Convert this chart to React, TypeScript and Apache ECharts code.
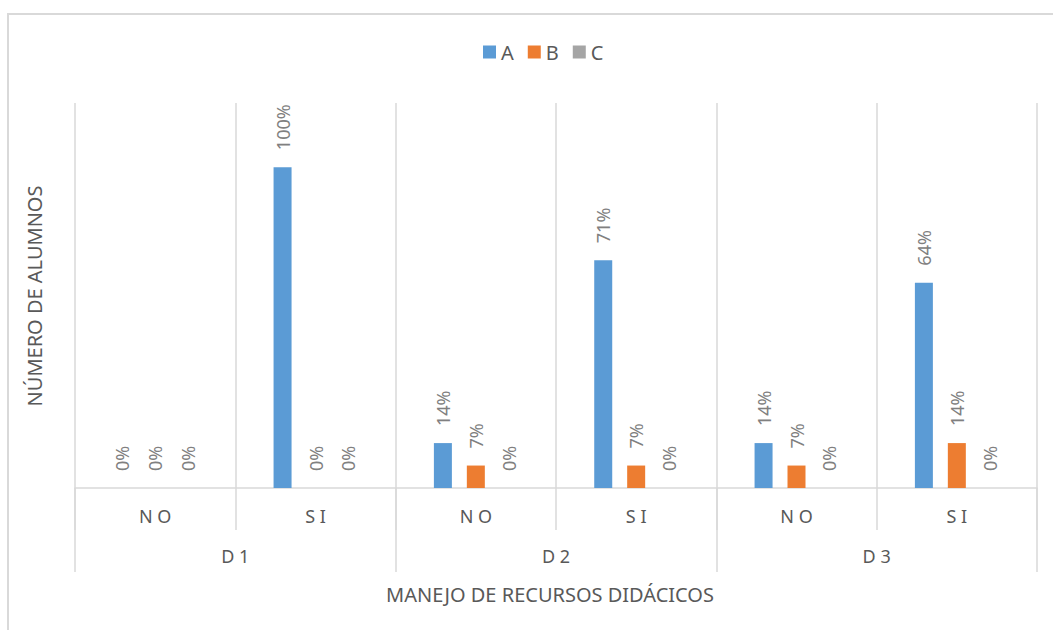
import React, { useEffect, useRef } from "react";
import * as echarts from "echarts";

const subCategories = ["NO", "SI", "NO", "SI", "NO", "SI"];
const groups = ["D1", "D2", "D3"];
const seriesNames = ["A", "B", "C"];
const valuesA = [0, 1.0, 0.14, 0.71, 0.14, 0.64];
const valuesB = [0, 0, 0.07, 0.07, 0.07, 0.14];
const valuesC = [0, 0, 0, 0, 0, 0];
const colors = ["#5B9BD5", "#ED7D31", "#A5A5A5"];
const yTitle = "NÚMERO DE ALUMNOS";
const xTitle = "MANEJO DE RECURSOS DIDÁCICOS";

const FONT = "'Noto Sans', sans-serif";
const GRID_COLOR = "#D9D9D9";
const TEXT = "#595959";

export default function App() {
  const ref = useRef<HTMLDivElement>(null);
  useEffect(() => {
    if (!ref.current) return;
    const chart = echarts.init(ref.current, undefined, { renderer: "svg" });
    const spaced = (v: string) => v.split("").join(" ");
    const allValues = [valuesA, valuesB, valuesC];
    chart.setOption({
      animation: false,
      textStyle: { fontFamily: FONT },
      legend: {
        data: seriesNames,
        left: 478,
        top: 37,
        icon: "rect",
        itemWidth: 13,
        itemHeight: 13,
        itemGap: 14,
        textStyle: { color: TEXT, fontSize: 20, fontFamily: FONT },
      },
      grid: { left: 75, right: 16, top: 103, bottom: 142, containLabel: false },
      xAxis: [
        {
          type: "category",
          data: subCategories,
          position: "bottom",
          axisLine: { show: true, lineStyle: { color: GRID_COLOR, width: 1.5 } },
          axisTick: { show: true, interval: 0, length: 42, lineStyle: { color: GRID_COLOR, width: 1.5 } },
          axisLabel: {
            interval: 0,
            margin: 19,
            color: TEXT,
            fontSize: 18,
            fontFamily: FONT,
            formatter: spaced,
          },
          splitLine: { show: true, interval: 0, lineStyle: { color: GRID_COLOR, width: 1.5 } },
        },
        {
          type: "category",
          data: groups,
          position: "bottom",
          gridIndex: 0,
          axisLine: { show: false },
          axisTick: { show: true, interval: 0, length: 84, lineStyle: { color: GRID_COLOR, width: 1.5 } },
          axisLabel: {
            interval: 0,
            margin: 59,
            color: TEXT,
            fontSize: 18,
            fontFamily: FONT,
            formatter: spaced,
          },
          splitLine: { show: false },
        },
      ],
      yAxis: {
        type: "value",
        min: 0,
        max: 1.2,
        show: false,
        splitLine: { show: false },
      },
      series: seriesNames.map((name, i) => ({
        name,
        type: "bar",
        xAxisIndex: 0,
        data: allValues[i],
        barWidth: 18,
        barGap: "83%",
        itemStyle: { color: colors[i] },
        label: {
          show: true,
          position: "top",
          rotate: 90,
          align: "left",
          verticalAlign: "middle",
          distance: 17,
          color: "#808080",
          fontSize: 18,
          fontFamily: FONT,
          formatter: (p: any) => Math.round(p.value * 100) + "%",
        },
      })),
      graphic: [
        {
          type: "rect",
          shape: { x: 8, y: 14, width: 1100, height: 700 },
          style: { fill: "none", stroke: GRID_COLOR, lineWidth: 2 },
          silent: true,
        },
        {
          type: "text",
          x: 34,
          y: 296,
          rotation: Math.PI / 2,
          style: {
            text: yTitle,
            fill: TEXT,
            fontSize: 20,
            fontFamily: FONT,
            align: "center",
            verticalAlign: "middle",
          },
        },
        {
          type: "text",
          x: 550,
          y: 594,
          style: {
            text: xTitle,
            fill: TEXT,
            fontSize: 20,
            fontFamily: FONT,
            align: "center",
            verticalAlign: "middle",
          },
        },
      ],
    });
    return () => chart.dispose();
  }, []);
  return (
    <div
      ref={ref}
      style={{ position: "fixed", left: 0, top: 0, width: 1053, height: 630, background: "#fff" }}
    />
  );
}
